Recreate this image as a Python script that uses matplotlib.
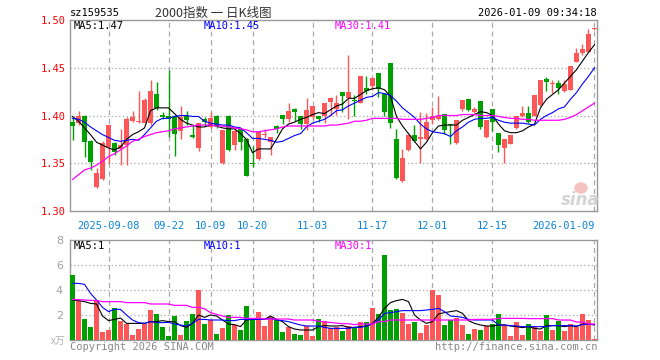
import numpy as np
import matplotlib
matplotlib.use('Agg')
from matplotlib import pyplot as plt
from matplotlib.patches import Ellipse

# daily candles, index 0 = 2025-08-29 ... 87 = 2026-01-09
opens = [1.393, 1.392, 1.400, 1.373, 1.325, 1.334, 1.367, 1.371, 1.365, 1.369,
         1.394, 1.393, 1.392, 1.392, 1.423, 1.401, 1.399, 1.400, 1.384, 1.400,
         1.380, 1.366, 1.396, 1.388, 1.400, 1.350, 1.400, 1.369, 1.386, 1.375,
         1.350, 1.354, 1.380, 1.372, 1.389, 1.401, 1.396, 1.407, 1.400, 1.391,
         1.398, 1.400, 1.400, 1.414, 1.407, 1.425, 1.418, 1.416, 1.413, 1.429,
         1.431, 1.445, 1.423, 1.455, 1.375, 1.331, 1.364, 1.380, 1.375, 1.375,
         1.395, 1.396, 1.402, 1.391, 1.371, 1.407, 1.417, 1.404, 1.415, 1.377,
         1.407, 1.382, 1.366, 1.370, 1.387, 1.399, 1.403, 1.400, 1.411, 1.438,
         1.433, 1.434, 1.426, 1.427, 1.456, 1.465, 1.467, 1.491]
highs = [1.397, 1.405, 1.401, 1.374, 1.345, 1.373, 1.390, 1.372, 1.386, 1.398,
         1.405, 1.426, 1.418, 1.437, 1.435, 1.404, 1.448, 1.401, 1.410, 1.405,
         1.390, 1.392, 1.398, 1.404, 1.401, 1.385, 1.401, 1.387, 1.387, 1.376,
         1.368, 1.383, 1.386, 1.378, 1.390, 1.401, 1.413, 1.408, 1.400, 1.418,
         1.410, 1.400, 1.413, 1.419, 1.421, 1.425, 1.463, 1.421, 1.441, 1.441,
         1.439, 1.445, 1.423, 1.455, 1.386, 1.365, 1.381, 1.390, 1.404, 1.403,
         1.409, 1.420, 1.402, 1.391, 1.395, 1.416, 1.417, 1.409, 1.415, 1.395,
         1.407, 1.382, 1.375, 1.380, 1.400, 1.410, 1.410, 1.421, 1.437, 1.440,
         1.437, 1.437, 1.437, 1.452, 1.471, 1.475, 1.491, 1.492]
lows = [1.374, 1.390, 1.357, 1.343, 1.324, 1.332, 1.350, 1.359, 1.348, 1.348,
        1.393, 1.392, 1.392, 1.390, 1.406, 1.396, 1.378, 1.358, 1.375, 1.390,
        1.376, 1.363, 1.389, 1.387, 1.387, 1.349, 1.363, 1.364, 1.364, 1.337,
        1.346, 1.353, 1.376, 1.359, 1.382, 1.391, 1.393, 1.394, 1.386, 1.385,
        1.396, 1.393, 1.392, 1.400, 1.401, 1.404, 1.396, 1.399, 1.413, 1.423,
        1.427, 1.419, 1.400, 1.387, 1.333, 1.330, 1.363, 1.372, 1.350, 1.374,
        1.391, 1.395, 1.381, 1.370, 1.370, 1.405, 1.405, 1.403, 1.386, 1.376,
        1.384, 1.362, 1.350, 1.370, 1.386, 1.398, 1.392, 1.400, 1.410, 1.426,
        1.424, 1.423, 1.425, 1.427, 1.456, 1.463, 1.466, 1.490]
closes = [1.389, 1.400, 1.372, 1.351, 1.340, 1.371, 1.390, 1.362, 1.369, 1.396,
          1.398, 1.394, 1.416, 1.426, 1.408, 1.398, 1.396, 1.381, 1.398, 1.395,
          1.377, 1.392, 1.393, 1.397, 1.389, 1.385, 1.364, 1.384, 1.372, 1.337,
          1.349, 1.383, 1.381, 1.378, 1.386, 1.396, 1.405, 1.404, 1.391, 1.406,
          1.410, 1.396, 1.413, 1.418, 1.413, 1.420, 1.425, 1.415, 1.441, 1.426,
          1.439, 1.428, 1.404, 1.392, 1.335, 1.355, 1.380, 1.373, 1.377, 1.393,
          1.400, 1.400, 1.385, 1.390, 1.395, 1.416, 1.406, 1.407, 1.388, 1.395,
          1.393, 1.369, 1.375, 1.380, 1.399, 1.403, 1.393, 1.421, 1.437, 1.435,
          1.434, 1.429, 1.433, 1.452, 1.465, 1.470, 1.485, 1.492]

ma5 = [1.399, 1.394, 1.387, 1.380, 1.372, 1.369, 1.366, 1.364, 1.367, 1.375,
       1.380, 1.383, 1.387, 1.405, 1.408, 1.408, 1.408, 1.402, 1.396, 1.392,
       1.390, 1.388, 1.388, 1.390, 1.389, 1.387, 1.386, 1.386, 1.381, 1.375,
       1.361, 1.365, 1.365, 1.365, 1.375, 1.386, 1.391, 1.393, 1.396, 1.398,
       1.401, 1.403, 1.402, 1.406, 1.410, 1.412, 1.418, 1.418, 1.422, 1.426,
       1.428, 1.429, 1.427, 1.420, 1.399, 1.389, 1.381, 1.373, 1.365, 1.372,
       1.382, 1.389, 1.390, 1.390, 1.390, 1.395, 1.398, 1.401, 1.404, 1.403,
       1.400, 1.391, 1.384, 1.382, 1.382, 1.384, 1.388, 1.391, 1.408, 1.417,
       1.422, 1.427, 1.434, 1.441, 1.448, 1.457, 1.466, 1.474]
ma10 = [1.397, 1.396, 1.393, 1.388, 1.384, 1.380, 1.377, 1.374, 1.373, 1.374,
        1.375, 1.374, 1.380, 1.387, 1.394, 1.397, 1.397, 1.399, 1.400, 1.400,
        1.399, 1.399, 1.394, 1.392, 1.391, 1.390, 1.390, 1.388, 1.387, 1.382,
        1.376, 1.376, 1.375, 1.374, 1.372, 1.373, 1.376, 1.379, 1.381, 1.388,
        1.392, 1.394, 1.396, 1.400, 1.405, 1.406, 1.410, 1.413, 1.416, 1.419,
        1.420, 1.424, 1.423, 1.421, 1.415, 1.408, 1.403, 1.398, 1.391, 1.386,
        1.383, 1.382, 1.381, 1.378, 1.384, 1.388, 1.393, 1.396, 1.397, 1.397,
        1.398, 1.395, 1.393, 1.392, 1.392, 1.392, 1.391, 1.390, 1.396, 1.400,
        1.403, 1.407, 1.409, 1.417, 1.424, 1.433, 1.441, 1.450]
ma30 = [1.333, 1.338, 1.343, 1.345, 1.348, 1.352, 1.357, 1.360, 1.364, 1.368,
        1.373, 1.375, 1.378, 1.380, 1.382, 1.383, 1.384, 1.386, 1.387, 1.388,
        1.389, 1.390, 1.390, 1.390, 1.389, 1.389, 1.388, 1.387, 1.386, 1.385,
        1.383, 1.383, 1.384, 1.385, 1.386, 1.388, 1.389, 1.389, 1.389, 1.389,
        1.389, 1.389, 1.389, 1.390, 1.390, 1.391, 1.392, 1.394, 1.394, 1.395,
        1.397, 1.397, 1.397, 1.397, 1.397, 1.396, 1.396, 1.396, 1.396, 1.397,
        1.398, 1.400, 1.400, 1.400, 1.400, 1.401, 1.401, 1.401, 1.400, 1.400,
        1.400, 1.399, 1.398, 1.397, 1.397, 1.396, 1.396, 1.395, 1.395, 1.395,
        1.395, 1.395, 1.396, 1.398, 1.401, 1.405, 1.409, 1.413]

# volume, in units of 万
volume = [5.2, 3.12, 1.68, 1.04, 3.2, 0.64, 0.8, 2.56, 1.52, 1.28,
          0.4, 0.88, 1.28, 2.4, 2.08, 1.04, 0.32, 1.92, 0.4, 1.52,
          2.08, 4.0, 1.28, 1.6, 0.48, 0.96, 2.0, 1.2, 0.8, 2.72,
          1.6, 2.24, 1.12, 1.84, 1.6, 0.64, 1.04, 0.48, 0.4, 1.12,
          0.32, 1.68, 1.52, 0.96, 1.07, 0.72, 1.12, 0.99, 1.44, 1.44,
          2.56, 2.08, 6.8, 2.4, 2.48, 2.16, 1.28, 1.44, 0.56, 1.2,
          4.0, 3.6, 1.2, 1.6, 1.76, 1.2, 0.48, 0.88, 0.8, 1.12,
          1.28, 2.08, 1.2, 0.32, 1.44, 0.4, 1.28, 1.04, 0.72, 2.0,
          0.8, 1.52, 0.72, 1.28, 1.04, 2.08, 1.6, 0.08]
vol_ma5 = [3.2, 3.15, 3.07, 2.93, 2.88, 1.92, 1.55, 1.65, 1.76, 1.33,
           1.33, 1.33, 1.33, 1.47, 1.47, 1.55, 1.47, 1.47, 1.15, 1.01,
           1.33, 2.0, 1.81, 2.0, 1.92, 1.6, 1.28, 1.23, 1.07, 1.6,
           1.65, 1.65, 1.65, 1.92, 1.65, 1.47, 1.07, 0.88, 0.8, 0.8,
           0.8, 1.07, 1.15, 1.12, 1.12, 1.15, 1.01, 1.01, 1.07, 1.12,
           1.33, 1.81, 2.53, 2.99, 3.15, 3.25, 3.07, 2.0, 1.6, 1.33,
           1.47, 2.08, 2.19, 2.27, 2.35, 2.13, 1.55, 1.33, 1.2, 1.12,
           1.12, 1.2, 1.2, 1.12, 1.07, 0.99, 1.07, 0.93, 0.88, 1.15,
           1.15, 1.15, 1.07, 1.15, 1.07, 1.28, 1.28, 1.2]
vol_ma10 = [4.53, 4.53, 4.45, 3.73, 3.2, 2.61, 2.27, 2.45, 2.45, 2.0,
            1.6, 1.39, 1.33, 1.47, 1.39, 1.39, 1.41, 1.28, 1.2, 1.12,
            1.33, 1.65, 1.65, 1.6, 1.6, 1.6, 1.55, 1.55, 1.65, 1.65,
            1.65, 1.65, 1.65, 1.73, 1.6, 1.55, 1.47, 1.33, 1.2, 1.12,
            1.12, 1.12, 1.01, 0.93, 0.93, 0.93, 0.93, 1.01, 1.01, 1.12,
            1.28, 1.6, 2.13, 2.19, 2.27, 2.35, 2.35, 2.35, 2.35, 2.4,
            2.45, 2.53, 2.27, 1.92, 1.87, 1.81, 1.65, 1.6, 1.6, 1.6,
            1.6, 1.2, 1.2, 1.15, 1.12, 1.07, 1.07, 1.07, 1.07, 1.07,
            1.15, 1.15, 1.15, 1.15, 1.12, 1.23, 1.28, 1.23]
vol_ma30 = [3.25, 3.22, 3.2, 3.17, 3.15, 3.07, 3.07, 3.07, 3.07, 2.99,
            2.99, 2.99, 2.99, 2.88, 2.88, 2.88, 2.88, 2.77, 2.77, 2.77,
            2.61, 2.61, 2.5, 2.19, 2.05, 1.92, 1.81, 1.81, 1.81, 1.73,
            1.73, 1.73, 1.68, 1.68, 1.68, 1.68, 1.68, 1.6, 1.6, 1.6,
            1.6, 1.5, 1.45, 1.4, 1.35, 1.3, 1.3, 1.23, 1.28, 1.28,
            1.28, 1.47, 1.47, 1.6, 1.6, 1.6, 1.6, 1.6, 1.6, 1.6,
            1.6, 1.6, 1.6, 1.6, 1.6, 1.6, 1.6, 1.65, 1.65, 1.65,
            1.65, 1.73, 1.73, 1.73, 1.73, 1.73, 1.71, 1.71, 1.71, 1.71,
            1.71, 1.6, 1.6, 1.6, 1.44, 1.44, 1.28, 1.28]

date_pos = [6, 16, 23, 30, 40, 50, 60, 70, 87]
date_labels = ['2025-09-08', '09-22', '10-09', '10-20', '11-03', '11-17',
               '12-01', '12-15', '2026-01-09']
price_ticks = [1.30, 1.35, 1.40, 1.45, 1.50]
vol_ticks = [2, 4, 6, 8]

W, H = 660, 360
RED = '#ff5757'
GREEN = '#009f00'
GRID = '#a8a8a8'
SPINE = '#999999'
XBLUE = '#0a84d6'
MONO = 'DejaVu Sans Mono'
CJK = ['Noto Sans CJK SC', 'DejaVu Sans']


def fx(x):
  return x / W


def fy(y):
  return 1 - y / H


fig = plt.figure(figsize=(W / 100, H / 100), dpi=100)
ax = fig.add_axes([fx(70), fy(211), 527 / W, 191 / H])
axv = fig.add_axes([fx(70), fy(340), 527 / W, 100 / H])

idx = np.arange(len(closes))
o = np.array(opens)
c = np.array(closes)
colors = np.where(c >= o, RED, GREEN)

# candles
ax.vlines(idx, lows, highs, colors=colors, lw=1, zorder=3)
ax.bar(idx, np.maximum(np.abs(c - o), 0.0008), bottom=np.minimum(o, c),
       width=0.78, color=colors, zorder=3)
ax.plot(idx, ma5, color='black', lw=0.8, zorder=4)
ax.plot(idx, ma10, color='#0000ff', lw=0.8, zorder=4)
ax.plot(idx, ma30, color='#ff00ff', lw=0.9, zorder=4)

# volume
axv.bar(idx, volume, width=0.78, color=colors, zorder=3)
axv.plot(idx, vol_ma5, color='black', lw=0.8, zorder=4)
axv.plot(idx, vol_ma10, color='#0000ff', lw=0.8, zorder=4)
axv.plot(idx, vol_ma30, color='#ff00ff', lw=0.9, zorder=4)

for a in (ax, axv):
  a.set_xlim(-0.42, 87.42)
  for t in date_pos:
    a.axvline(t, color=GRID, lw=0.9, ls=(0, (4, 3)), zorder=1)
  for s in a.spines.values():
    s.set_color(SPINE)
    s.set_linewidth(1)
  a.tick_params(length=0)

ax.set_ylim(1.30, 1.50)
for y in price_ticks[1:-1]:
  ax.axhline(y, color=GRID, lw=0.9, ls=(0, (1, 2)), zorder=1)
ax.set_yticks(price_ticks)
ax.set_yticklabels(['%.2f' % p for p in price_ticks], color='red',
                   family=MONO, fontsize=7.5)
ax.tick_params(axis='y', pad=3)
ax.set_xticks(date_pos)
ax.set_xticklabels(date_labels, color=XBLUE, family=MONO, fontsize=7.5)
ax.tick_params(axis='x', pad=7)
ax.get_xticklabels()[-1].set_ha('right')

axv.set_ylim(0, 8)
for y in vol_ticks[:-1]:
  axv.axhline(y, color=GRID, lw=0.9, ls=(0, (1, 2)), zorder=1)
axv.set_yticks(vol_ticks)
axv.set_yticklabels([str(v) for v in vol_ticks], color='#a0a0a0',
                    fontsize=8)
axv.tick_params(axis='y', pad=5)
axv.set_xticks([])

# header texts
fig.text(fx(70), fy(13), 'sz159535', ha='left', va='center', fontsize=7.5,
         family=MONO, color='black')
fig.text(fx(213), fy(13), '2000指数 一 日K线图', ha='center', va='center',
         fontsize=9, family=CJK, color='#333333')
fig.text(fx(597), fy(13), '2026-01-09 09:34:18', ha='right', va='center',
         fontsize=7.5, family=MONO, color='black')

# moving average labels
fig.text(fx(74), fy(26), 'MA5:%.2f' % ma5[-1], va='center', fontsize=7.5,
         family=MONO, color='black')
fig.text(fx(204), fy(26), 'MA10:%.2f' % ma10[-1], va='center', fontsize=7.5,
         family=MONO, color='#0000ff')
fig.text(fx(335), fy(26), 'MA30:%.2f' % ma30[-1], va='center', fontsize=7.5,
         family=MONO, color='#ff00ff')
fig.text(fx(74), fy(246), 'MA5:%d' % vol_ma5[-1], va='center', fontsize=7.5,
         family=MONO, color='black')
fig.text(fx(204), fy(246), 'MA10:%d' % vol_ma10[-1], va='center',
         fontsize=7.5, family=MONO, color='#0000ff')
fig.text(fx(335), fy(246), 'MA30:%d' % vol_ma30[-1], va='center',
         fontsize=7.5, family=MONO, color='#ff00ff')

fig.text(fx(65), fy(341), 'x万', ha='right', va='center', fontsize=7,
         family=CJK, style='italic', color='#b0b0b0')

# footer
fig.text(fx(70), fy(347), 'Copyright 2026 SINA.COM', ha='left', va='center',
         fontsize=7.5, family=MONO, color='#888888')
fig.text(fx(597), fy(347), 'http://finance.sina.com.cn', ha='right',
         va='center', fontsize=7.5, family=MONO, color='#888888')

# watermark: small eye logo above the word
fig.patches.append(Ellipse((fx(581), fy(188)), 12 / W, 10 / H,
                           color='#f5c2c2', transform=fig.transFigure,
                           figure=fig))
fig.text(fx(580), fy(200), 'sina', ha='center', va='center', fontsize=12,
         style='italic', weight='bold', color='#d4d4d4')

plt.savefig('out.png', dpi=100)
